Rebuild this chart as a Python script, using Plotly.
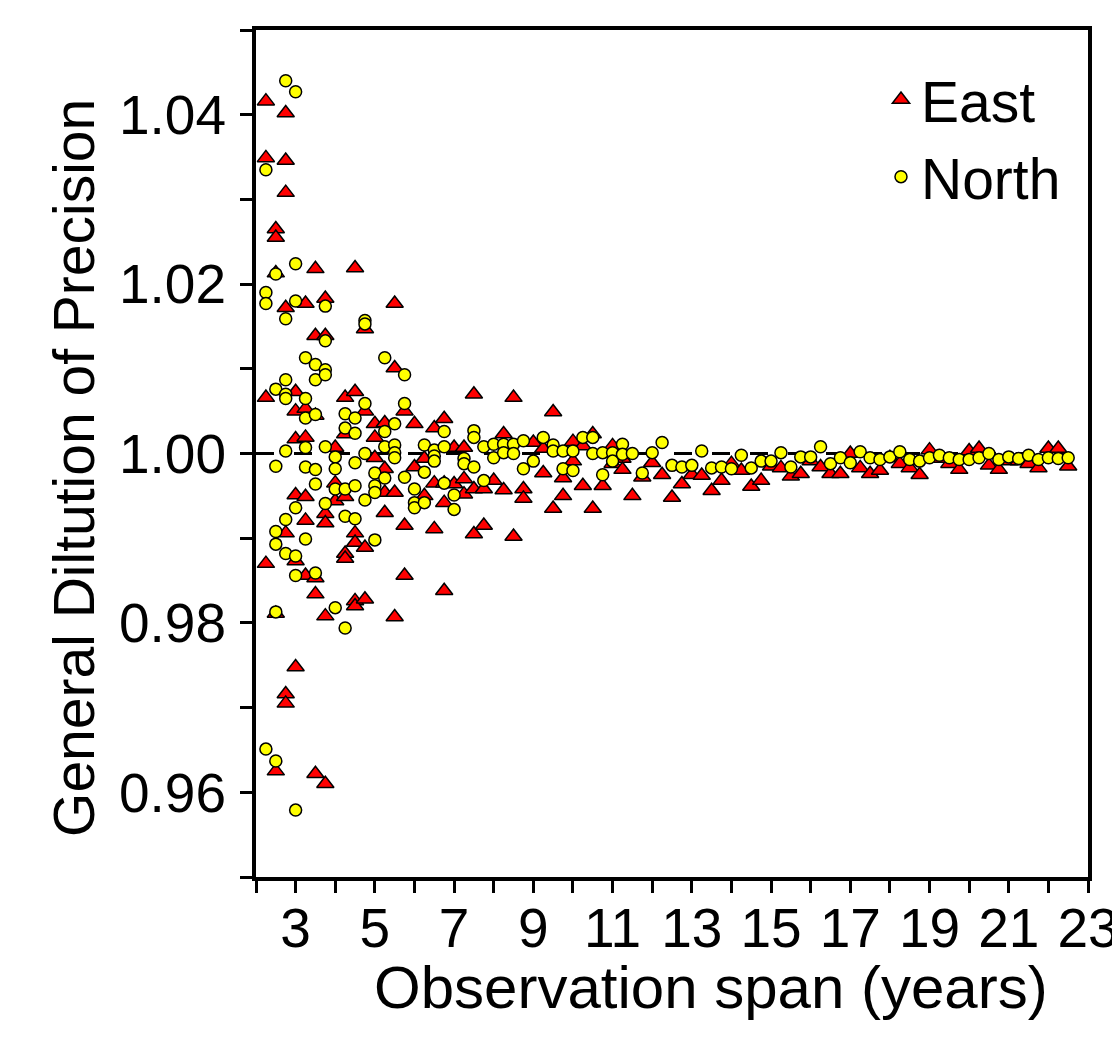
import plotly.graph_objects as go

# ---- data ----
east_spans = [2.25, 2.5, 2.75, 3.0, 3.25, 3.5, 3.75, 4.0, 4.25, 4.5, 4.75, 5.0, 5.25, 5.5, 5.75,
              6.0, 6.25, 6.5, 6.75, 7.0, 7.25, 7.5, 7.75, 8.0, 8.25, 8.5, 8.75, 9.0, 9.25, 9.5,
              9.75, 10.0, 10.25, 10.5, 10.75, 11.0, 11.25, 11.5, 11.75, 12.0, 12.25, 12.5, 12.75,
              13.0, 13.25, 13.5, 13.75, 14.0, 14.25, 14.5, 14.75, 15.0, 15.25, 15.5, 15.75, 16.0,
              16.25, 16.5, 16.75, 17.0, 17.25, 17.5, 17.75, 18.0, 18.25, 18.5, 18.75, 19.0, 19.25,
              19.5, 19.75, 20.0, 20.25, 20.5, 20.75, 21.0, 21.25, 21.5, 21.75, 22.0, 22.25, 22.5]
east_gdop = [
    [1.0416, 1.0349, 1.0066, 0.9870],
    [1.0265, 1.0255, 1.0213, 0.9811, 0.9625],
    [1.0402, 1.0346, 1.0308, 1.0172, 0.9906, 0.9716, 0.9705],
    [1.0073, 1.0050, 1.0017, 0.9951, 0.9873, 0.9748],
    [1.0177, 1.0053, 1.0019, 0.9949, 0.9921, 0.9856],
    [1.0218, 1.0139, 1.0045, 0.9853, 0.9834, 0.9622],
    [1.0183, 1.0139, 0.9929, 0.9918, 0.9808, 0.9610],
    [1.0007, 0.9965, 0.9944],
    [1.0066, 1.0023, 0.9949, 0.9882, 0.9876],
    [1.0219, 1.0073, 0.9906, 0.9895, 0.9826, 0.9820],
    [1.0147, 1.0050, 0.9889, 0.9828],
    [1.0035, 1.0019, 0.9995],
    [1.0036, 0.9982, 0.9954, 0.9930],
    [1.0177, 1.0101, 0.9954, 0.9807],
    [1.0050, 0.9915, 0.9856],
    [1.0035, 0.9984],
    [0.9994, 0.9950],
    [1.0030, 0.9965, 0.9911],
    [1.0041, 0.9965, 0.9942, 0.9838],
    [1.0007, 0.9964],
    [1.0007, 0.9970, 0.9952],
    [1.0070, 0.9958, 0.9905],
    [0.9958, 0.9915],
    [0.9968],
    [1.0023, 0.9957],
    [1.0066, 0.9902],
    [0.9958, 0.9947],
    [1.0013],
    [1.0006, 0.9977],
    [1.0049, 0.9935],
    [0.9971, 0.9950],
    [1.0014, 0.9991],
    [1.0009, 0.9962],
    [1.0023, 0.9935],
    [0.9962],
    [1.0009, 0.9988],
    [0.9994, 0.9981],
    [0.9950],
    [0.9972],
    [0.9989],
    [0.9975],
    [0.9948],
    [0.9964],
    [0.9975],
    [0.9974],
    [0.9956],
    [0.9968],
    [0.9988],
    [0.9980],
    [0.9961],
    [0.9968],
    [0.9985],
    [0.9983], [0.9973], [0.9976], [0.9991], [0.9984], [0.9976], [0.9976], [1.0000],
    [0.9983], [0.9976], [0.9980], [0.9995], [0.9988], [0.9983], [0.9975], [1.0004],
    [0.9994], [0.9988], [0.9981], [1.0003], [1.0006], [0.9986], [0.9981], [0.9991],
    [0.9991], [0.9988], [0.9983], [1.0006], [1.0006], [0.9985],
]

north_spans = east_spans
north_gdop = [
    [1.0335, 1.0190, 1.0177, 0.9651],
    [1.0212, 1.0076, 0.9985, 0.9908, 0.9893, 0.9813, 0.9637],
    [1.0440, 1.0159, 1.0087, 1.0070, 1.0065, 1.0003, 0.9922, 0.9882],
    [1.0427, 1.0224, 1.0180, 0.9936, 0.9879, 0.9856, 0.9579],
    [1.0113, 1.0065, 1.0042, 1.0007, 0.9984, 0.9899],
    [1.0105, 1.0087, 1.0046, 0.9981, 0.9964, 0.9859],
    [1.0174, 1.0133, 1.0099, 1.0093, 1.0008, 0.9941],
    [0.9996, 0.9982, 0.9958, 0.9818],
    [1.0047, 1.0030, 0.9958, 0.9926, 0.9794],
    [1.0042, 1.0024, 0.9989, 0.9962, 0.9923],
    [1.0157, 1.0153, 1.0059, 1.0000, 0.9945],
    [0.9977, 0.9962, 0.9954, 0.9898],
    [1.0113, 1.0026, 1.0008, 0.9971],
    [1.0035, 1.0010, 1.0001, 0.9995],
    [1.0093, 1.0059, 0.9972],
    [0.9958, 0.9942, 0.9936],
    [1.0010, 0.9978, 0.9942],
    [1.0004, 0.9997, 0.9991],
    [1.0026, 1.0008, 0.9965],
    [0.9951, 0.9934],
    [0.9994, 0.9988],
    [1.0027, 1.0019, 0.9984],
    [1.0008, 0.9968],
    [1.0011, 0.9995],
    [1.0011, 1.0001],
    [1.0011, 1.0000],
    [1.0015, 0.9982],
    [0.9991],
    [1.0019],
    [1.0010, 1.0003],
    [1.0003, 0.9982],
    [1.0003, 0.9980],
    [1.0019],
    [1.0019, 1.0000],
    [1.0001, 0.9975],
    [1.0001, 0.9991],
    [1.0011, 0.9999],
    [1.0000],
    [0.9977],
    [1.0001],
    [1.0013],
    [0.9986], [0.9984], [0.9986], [1.0003], [0.9983], [0.9984], [0.9982], [0.9998],
    [0.9983], [0.9991], [0.9991], [1.0001], [0.9984], [0.9996], [0.9996], [1.0008],
    [0.9988], [0.9995], [0.9989], [1.0002], [0.9995], [0.9993], [0.9996], [1.0002],
    [0.9993], [0.9991], [0.9995], [0.9998], [0.9995], [0.9993], [0.9993], [0.9995],
    [1.0000], [0.9993], [0.9996], [0.9994], [0.9998], [0.9993], [0.9995], [0.9994],
    [0.9995],
]

x_tick_vals = list(range(2, 24))
x_tick_text = ["" if v % 2 == 0 else str(v) for v in x_tick_vals]
y_tick_vals = [0.95, 0.96, 0.97, 0.98, 0.99, 1.00, 1.01, 1.02, 1.03, 1.04, 1.05]
y_tick_text = ["", "0.96", "", "0.98", "", "1.00", "", "1.02", "", "1.04", ""]
reference_level = 1.0
x_range = [2, 23]
y_range = [0.95, 1.05]
x_title = "Observation span (years)"
y_title = "General Diltution of Precision"


def flatten(spans, groups):
    xs, ys = [], []
    for s, vals in zip(spans, groups):
        for v in vals:
            xs.append(s)
            ys.append(v)
    return xs, ys


ex, ey = flatten(east_spans, east_gdop)
nx, ny = flatten(north_spans, north_gdop)

FONT = "Liberation Sans, Arial, Helvetica, sans-serif"

fig = go.Figure()
fig.add_trace(go.Scatter(
    x=x_range, y=[reference_level, reference_level], mode="lines",
    line=dict(color="black", width=3, dash="18px,20px"),
    showlegend=False, hoverinfo="skip"))
fig.add_trace(go.Scatter(
    x=ex, y=ey, mode="markers", name="East", legendgroup="e",
    marker=dict(symbol="triangle-up", size=15, color="#FF0000",
                line=dict(color="black", width=1.5))))
fig.add_trace(go.Scatter(
    x=nx, y=ny, mode="markers", name="North", legendgroup="n",
    marker=dict(symbol="circle", size=12, color="#FFFF00",
                line=dict(color="black", width=1.5))))

axis_common = dict(showline=True, linecolor="black", linewidth=4, mirror=True,
                   showgrid=False, zeroline=False, ticks="outside", ticklen=12,
                   tickwidth=3, tickcolor="black",
                   tickfont=dict(family=FONT, size=55, color="black"))

fig.update_xaxes(range=x_range, tickmode="array", tickvals=x_tick_vals,
                 ticktext=x_tick_text, ticklabelstandoff=-12, **axis_common)
fig.update_yaxes(range=y_range, tickmode="array", tickvals=y_tick_vals,
                 ticktext=y_tick_text, ticklabelstandoff=3, **axis_common)

fig.add_annotation(text=x_title, xref="paper", yref="paper", x=0.547, y=-0.131,
                   xanchor="center", yanchor="middle", showarrow=False,
                   font=dict(family=FONT, size=60, color="black"))
fig.add_annotation(text=y_title, xref="paper", yref="paper", x=-0.2188, y=0.4829,
                   xanchor="center", yanchor="middle", textangle=-90, showarrow=False,
                   font=dict(family=FONT, size=57, color="black"))

fig.update_layout(
    width=1112, height=1029,
    margin=dict(l=248, r=32, t=22, b=160, autoexpand=False),
    plot_bgcolor="white", paper_bgcolor="white",
    font=dict(family=FONT, size=55, color="black"),
    legend=dict(x=0.7512, y=0.9693, xanchor="left", yanchor="top",
                bgcolor="rgba(0,0,0,0)", tracegroupgap=0,
                font=dict(family=FONT, size=57, color="black")),
)

fig.write_html("out.html")
